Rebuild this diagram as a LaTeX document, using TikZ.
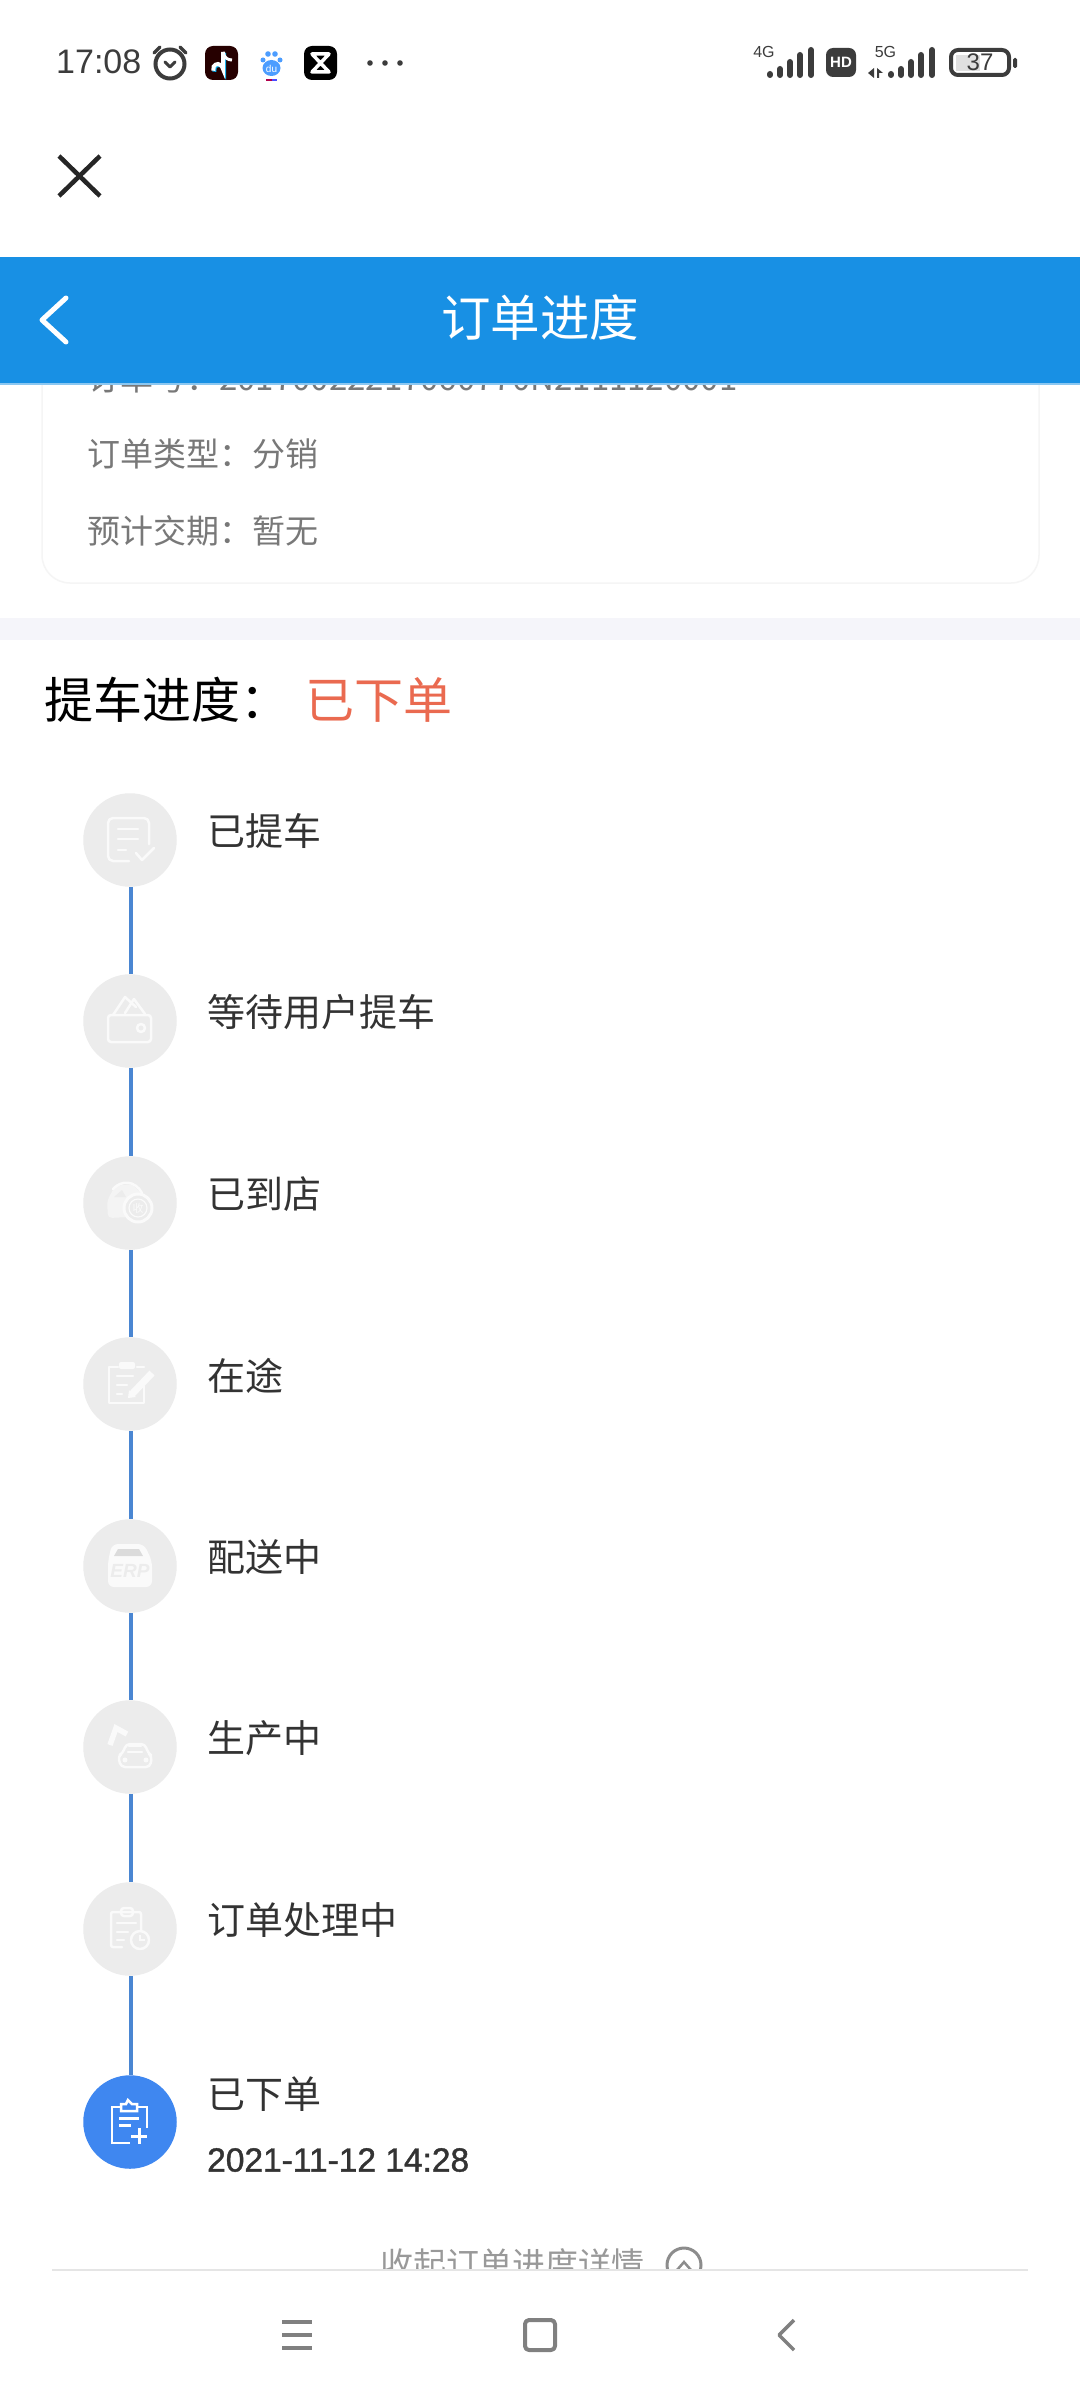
\documentclass[tikz,border=0pt]{standalone}
\usepackage{fontspec}
\setmainfont{Noto Sans CJK SC}
\newfontfamily\latinfont{Liberation Sans}
\newfontfamily\datefont[FakeBold=1.2]{Liberation Sans}
\usetikzlibrary{positioning}
\newcommand{\fsize}[1]{\fontsize{#1}{#1}\selectfont}
\definecolor{barblue}{HTML}{1890E4}
\definecolor{trackblue}{HTML}{4A86D2}
\definecolor{stepgray}{HTML}{ECECEC}
\definecolor{doneblue}{HTML}{3F87F0}
\definecolor{statusdark}{HTML}{3C3C3C}
\definecolor{navgray}{HTML}{808080}
\definecolor{stateorange}{HTML}{EA6A50}
\definecolor{bandgray}{HTML}{F5F5FA}
\definecolor{iconwhite}{HTML}{FAFAFA}
\tikzset{
    stepdot/.style={circle, fill=stepgray, minimum size=93.5pt, inner sep=0pt},
    steplabel/.style={anchor=west, inner sep=0pt, text=black!80, font=\fsize{38}},
    cardtext/.style={anchor=west, inner sep=0pt, text=black!53, font=\fsize{33}},
    trackline/.style={draw=trackblue, line width=4pt},
    iconline/.style={draw=iconwhite, line width=2.5pt, line join=round, line cap=round},
    navline/.style={draw=navgray, line width=4pt, line join=round}
}
\begin{document}
\begin{tikzpicture}[x=1pt, y=-1pt]
    \useasboundingbox (0,0) rectangle (1080,2400);
    \fill[white] (0,0) rectangle (1080,2400);

    % status bar
    \node [anchor=west, inner sep=0pt, text=statusdark, font=\latinfont\fsize{34}] (clock) at (56,62) {17:08};
    \draw [statusdark, line width=4pt] (170,64) circle (14.5);
    \draw [statusdark, line width=3pt, line cap=round, line join=round] (165,62) -- (170,67) -- (175,62);
    \draw [statusdark, line width=3.5pt, line cap=round] (154,53) -- (160,47) (180,47) -- (186,53);
    \fill [black!85!red, rounded corners=8pt] (205,46) rectangle (238,80);
    \draw [cyan, line width=4pt] (224,53) -- (224,70) arc[start angle=0, end angle=-200, radius=5];
    \draw [white, line width=4pt] (223,52) -- (223,69) arc[start angle=0, end angle=-200, radius=5];
    \draw [white, line width=3pt] (223,52) .. controls (224,58) and (228,60) .. (232,60);
    \foreach \i/\j/\r in {263/60/2.5, 268/54/2.8, 275/54/2.8, 280/60/2.5}
        \fill [blue!55!cyan!70!white] (\i,\j) circle (\r);
    \fill [blue!55!cyan!70!white] (271.5,68) ellipse (9 and 8);
    \node [inner sep=0pt, text=white, font=\latinfont\fsize{10}] (paw) at (271.5,69) {du};
    \fill [red!70!blue] (266,79) rectangle (272,81);
    \fill [blue!70!white] (272,79) rectangle (277,81);
    \fill [black, rounded corners=8pt] (304,46) rectangle (337,80);
    \draw [white, line width=3.5pt, line join=round] (312,54) -- (329,54) -- (312,72) -- (329,72) -- cycle;
    \foreach \i in {370,385,400}
        \fill [statusdark] (\i,63) circle (2.8);

    \node [inner sep=0pt, text=statusdark, font=\latinfont\fsize{16}] (net4g) at (764,52) {4G};
    \foreach \i/\j in {770/74, 780/69, 790/62, 800/55, 811/50}
        \draw [statusdark, line width=6pt, line cap=round] (\i,\j) -- (\i,75);
    \fill [statusdark, rounded corners=7pt] (826,48) rectangle (856,77);
    \node [inner sep=0pt, text=white, font=\latinfont\bfseries\fsize{15}] (hd) at (841,62.5) {HD};
    \node [inner sep=0pt, text=statusdark, font=\latinfont\fsize{16}] (net5g) at (885.5,52) {5G};
    \fill [statusdark] (868,73) -- (874,68) -- (874,78) -- cycle (877,68) -- (883,73) -- (879,73) -- (879,78) -- (877,78) -- cycle;
    \foreach \i/\j in {891/74, 901/69, 911/62, 921/55, 932/50}
        \draw [statusdark, line width=6pt, line cap=round] (\i,\j) -- (\i,75);
    \fill [black!12] (956,55) rectangle (980,71);
    \draw [statusdark, line width=4pt, rounded corners=7pt] (951,50) rectangle (1009,75);
    \fill [statusdark, rounded corners=1.5pt] (1013,58) rectangle (1017,68);
    \node [inner sep=0pt, text=statusdark, font=\latinfont\fsize{24}] (level) at (980,62.5) {37};

    % close cross
    \draw [black!85, line width=4.5pt] (59,156) -- (100,196) (100,156) -- (59,196);

    % order card, its first line runs under the bar
    \draw [black!4, line width=1.5pt, rounded corners=28pt, fill=white] (42,350) rectangle (1039,583);
    \node [cardtext] (orderno) at (87,378) {订单号：20170022217060770N2111120001};
    \node [cardtext] (ordertype) at (87,453.5) {订单类型：分销};
    \node [cardtext] (orderdate) at (87,530.5) {预计交期：暂无};

    % title bar
    \fill [barblue!50!white] (0,257) rectangle (1080,385);
    \fill [barblue] (0,257) rectangle (1080,383);
    \draw [white, line width=5pt, line cap=round, line join=round] (66,298) -- (42,320) -- (66,342);
    \node [inner sep=0pt, text=white, font=\fsize{49.5}] (title) at (540,318) {订单进度};

    \fill [bandgray] (0,618) rectangle (1080,640);
    \node [anchor=west, inner sep=0pt, text=black, font=\fsize{49}] (head) at (44,700) {提车进度：};
    \node [right=16pt of head, inner sep=0pt, text=stateorange, font=\fsize{49}] (state) {已下单};

    % steps from top to bottom
    \node [stepdot] (s1) at (130,840) {};
    \node [stepdot] (s2) at (130,1021) {};
    \node [stepdot] (s3) at (130,1203) {};
    \node [stepdot] (s4) at (130,1384) {};
    \node [stepdot] (s5) at (130,1566) {};
    \node [stepdot] (s6) at (130,1747) {};
    \node [stepdot] (s7) at (130,1929) {};
    \node [stepdot, fill=doneblue] (s8) at (130,2122) {};

    \draw [trackline] ([xshift=1pt]s1.south) -- ([xshift=1pt]s2.north);
    \draw [trackline] ([xshift=1pt]s2.south) -- ([xshift=1pt]s3.north);
    \draw [trackline] ([xshift=1pt]s3.south) -- ([xshift=1pt]s4.north);
    \draw [trackline] ([xshift=1pt]s4.south) -- ([xshift=1pt]s5.north);
    \draw [trackline] ([xshift=1pt]s5.south) -- ([xshift=1pt]s6.north);
    \draw [trackline] ([xshift=1pt]s6.south) -- ([xshift=1pt]s7.north);
    \draw [trackline] ([xshift=1pt]s7.south) -- ([xshift=1pt]s8.north);

    \node [steplabel] (t1) at (207.5,831) {已提车};
    \node [steplabel] (t2) at (207.5,1012) {等待用户提车};
    \node [steplabel] (t3) at (207.5,1194) {已到店};
    \node [steplabel] (t4) at (207.5,1376) {在途};
    \node [steplabel] (t5) at (207.5,1557) {配送中};
    \node [steplabel] (t6) at (207.5,1738) {生产中};
    \node [steplabel] (t7) at (207.5,1920) {订单处理中};
    \node [steplabel] (t8) at (207.5,2094) {已下单};
    \node [anchor=west, inner sep=0pt, text=black!80, font=\datefont\fsize{33.5}] (stamp) at (207,2160) {2021-11-12 14:28};

    % icons inside the dots
    \begin{scope}[shift={(s1)}]
        \draw [iconline, rounded corners=5pt] (19,4) -- (19,-22) -- (-22,-22) -- (-22,21) -- (-1,21);
        \draw [iconline] (-12,-11) -- (8,-11) (-12,-1) -- (8,-1) (-12,10) -- (-4,10);
        \draw [iconline] (6,13) -- (12,20) -- (24,8);
    \end{scope}
    \begin{scope}[shift={(s2)}]
        \draw [iconline, rounded corners=3pt] (-22,-6) rectangle (21,21);
        \draw [iconline] (-17,-6) -- (-5,-24) -- (6,-14) (-5,-8) -- (4,-22) -- (15,-7);
        \draw [iconline] (11,7) circle (4);
    \end{scope}
    \begin{scope}[shift={(s3)}]
        \fill [iconwhite!60!stepgray, rounded corners=4pt] (-23,-2) -- (-15,-17) -- (2,-19) -- (12,-9) -- (0,14) -- (-22,15) -- cycle;
        \draw [iconline] (-17,-14) .. controls (-9,-23) and (5,-23) .. (12,-10);
        \fill [stepgray] (-16,-6) -- (-8,-13) -- (-4,-6) -- cycle;
        \draw [iconwhite, line width=3pt, fill=stepgray] (8,5) circle (14);
        \draw [iconwhite, line width=1.2pt] (8,5) circle (9);
        \node [inner sep=0pt, text=iconwhite, font=\fsize{11}] (shou) at (8,5) {收};
    \end{scope}
    \begin{scope}[shift={(s4)}]
        \draw [iconline] (7,-17) -- (14,-17) (14,2) -- (14,19) -- (-21,19) -- (-21,-17) -- (-12,-17);
        \fill [iconwhite, rounded corners=2pt] (-11,-22) rectangle (5,-15);
        \draw [iconline] (-13,-8) -- (3,-8) (-13,1) -- (-3,1) (-13,10) -- (-8,10);
        \draw [iconwhite, line width=7pt] (22,-11) -- (2,10);
        \fill [iconwhite] (-2,14) -- (-1,6) -- (6,13) -- cycle;
    \end{scope}
    \begin{scope}[shift={(s5)}]
        \fill [iconwhite, rounded corners=6pt] (-18,-22) -- (14,-22) -- (22,-5) -- (22,21) -- (-22,21) -- (-22,-5) -- cycle;
        \fill [black!14] (-12,-17) -- (9,-17) -- (13,-10) -- (-16,-10) -- cycle;
        \node [inner sep=0pt, text=stepgray, font=\latinfont\bfseries\itshape\fsize{19}] (erp) at (0,5) {ERP};
    \end{scope}
    \begin{scope}[shift={(s6)}]
        \draw [iconwhite, line width=5.5pt] (-20,-2) -- (-14,-19) -- (-3,-13);
        \draw [iconline, rounded corners=4pt] (-9,20) -- (-12,9) -- (-7,6) -- (-4,-3) -- (15,-3) -- (18,6) -- (22,9) -- (20,20) -- cycle;
        \draw [iconline] (-2,5) -- (12,5) (-1,-1) -- (11,-1);
        \fill [iconwhite] (-5,13) circle (2.5) (16,13) circle (2.5);
    \end{scope}
    \begin{scope}[shift={(s7)}]
        \draw [iconline, rounded corners=2pt] (-8,18) -- (-19,18) -- (-19,-17) -- (11,-17) -- (11,2);
        \draw [iconline, rounded corners=3pt] (-9,-21) rectangle (3,-13);
        \draw [iconline] (-13,-6) -- (6,-6) (-13,3) -- (-2,3) (-13,11) -- (-6,11);
        \draw [iconline, fill=stepgray] (10,11) circle (9);
        \draw [iconwhite, line width=2pt] (10,6) -- (10,11) -- (15,11);
    \end{scope}
    \begin{scope}[shift={(s8)}]
        \draw [white, line width=2.5pt] (17,6) -- (17,-15) -- (-18,-15) -- (-18,21) -- (0,21);
        \draw [white, line width=2.5pt, fill=doneblue] (-9,-11) -- (-9,-18) -- (-4,-18) -- (-2,-22) -- (2,-18) -- (7,-18) -- (7,-11) -- cycle;
        \draw [white, line width=3pt] (-11,-4) -- (9,-4) (-11,3) -- (1,3);
        \draw [white, line width=3pt] (1,14) -- (17,14) (9,6) -- (9,22);
    \end{scope}

    % collapse link, cut off by the lower bar
    \node [inner sep=0pt, text=black!40, font=\fsize{33}] (collapse) at (512,2264) {收起订单进度详情};
    \draw [black!45, line width=3pt] (684,2265) circle (17);
    \draw [black!45, line width=2.5pt] (677,2270) -- (684,2262) -- (691,2270);
    \fill [white] (0,2270) rectangle (1080,2400);
    \draw [black!10, line width=1.5pt] (52,2270) -- (1028,2270);

    % navigation keys
    \draw [navline] (282,2322) -- (312,2322) (282,2335) -- (312,2335) (282,2348) -- (312,2348);
    \draw [navline, rounded corners=4pt] (525,2320) rectangle (555,2350);
    \draw [navgray, line width=3.5pt, line join=round] (794,2320) -- (779,2335) -- (794,2350);
\end{tikzpicture}
\end{document}
